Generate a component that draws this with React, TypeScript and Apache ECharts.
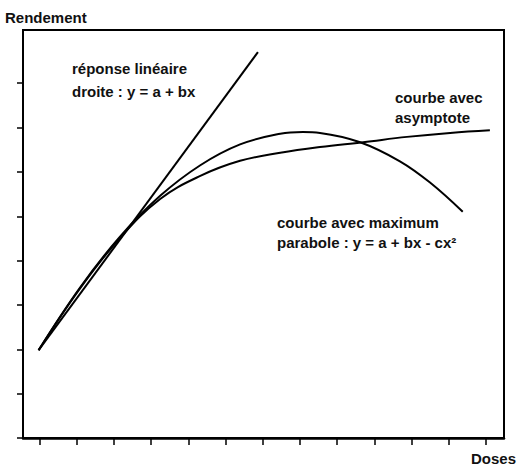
import React, { useEffect, useRef } from "react";
import * as echarts from "echarts";

// Axis tick positions (unlabelled ticks)
const xTicks = [1, 2, 3, 4, 5, 6, 7, 8, 9, 10, 11, 12, 13];
const yTicks = [0, 1, 2, 3, 4, 5, 6, 7, 8];

// Linear response: y = a + bx
const linearX = [0.97, 6.87];
const linearY = [1.98, 8.7];

// Curve with maximum (parabola): y = a + bx - cx²
const parabolaX = [0.97, 2.09, 3.16, 4.24, 5.32, 6.39, 7.47, 8.08, 8.54, 9.62, 10.69, 11.5, 12.38];
const parabolaY = [1.98, 3.4, 4.54, 5.46, 6.15, 6.62, 6.86, 6.9, 6.88, 6.67, 6.24, 5.76, 5.1];

// Curve with asymptote
const asymptoteX = [0.97, 2.09, 3.16, 4.24, 5.32, 6.39, 7.47, 8.54, 9.7, 10.88, 12.04, 13.11];
const asymptoteY = [1.98, 3.38, 4.51, 5.39, 5.91, 6.25, 6.43, 6.56, 6.67, 6.79, 6.88, 6.94];

const zip = (xs: number[], ys: number[]) => xs.map((x, i) => [x, ys[i]]);

const FONT = "'Liberation Sans', Arial, sans-serif";

export default function App() {
  const ref = useRef<HTMLDivElement>(null);
  useEffect(() => {
    document.body.style.margin = "0";
    if (!ref.current) return;
    const chart = echarts.init(ref.current, null, { renderer: "svg" });
    const lineStyle = { color: "#000", width: 2 };
    const textStyle = (text: string, x: number, y: number, lh: number) => ({
      type: "text",
      left: x,
      top: y,
      style: {
        text,
        fill: "#111",
        font: `bold 15px ${FONT}`,
        lineHeight: lh,
      },
    });
    chart.setOption({
      animation: false,
      backgroundColor: "#fff",
      grid: {
        left: 23,
        right: 13,
        top: 30,
        bottom: 32,
        show: true,
        borderColor: "#000",
        borderWidth: 2,
        backgroundColor: "transparent",
      },
      xAxis: {
        type: "value",
        min: 0.55,
        max: 13.49,
        splitLine: { show: false },
        axisLabel: { show: false },
        axisLine: { show: true, onZero: false, lineStyle: { color: "#000", width: 2.5 } },
        axisTick: {
          show: true,
          inside: false,
          length: 7,
          customValues: xTicks,
          lineStyle: { color: "#000", width: 1.5 },
        },
      },
      yAxis: {
        type: "value",
        min: 0,
        max: 9.2,
        splitLine: { show: false },
        axisLabel: { show: false },
        axisLine: { show: true, onZero: false, lineStyle: { color: "#000", width: 2 } },
        axisTick: {
          show: true,
          inside: false,
          length: 6,
          customValues: yTicks,
          lineStyle: { color: "#000", width: 1.5 },
        },
      },
      series: [
        {
          name: "réponse linéaire",
          type: "line",
          data: zip(linearX, linearY),
          showSymbol: false,
          lineStyle,
        },
        {
          name: "courbe avec maximum",
          type: "line",
          data: zip(parabolaX, parabolaY),
          showSymbol: false,
          smooth: 0.4,
          lineStyle,
        },
        {
          name: "courbe avec asymptote",
          type: "line",
          data: zip(asymptoteX, asymptoteY),
          showSymbol: false,
          smooth: 0.4,
          lineStyle,
        },
      ],
      graphic: [
        textStyle("Rendement", 5, 8, 18),
        textStyle("Doses", 471, 449, 18),
        textStyle("réponse linéaire\ndroite : y = a + bx", 72, 57, 23),
        textStyle("courbe avec\nasymptote", 395, 87, 20),
        textStyle("courbe avec maximum\nparabole : y = a + bx - cx²", 277, 212, 20),
      ],
    });
    return () => chart.dispose();
  }, []);
  return (
    <div
      ref={ref}
      style={{ width: 517, height: 470, position: "absolute", left: 0, top: 0 }}
    />
  );
}
